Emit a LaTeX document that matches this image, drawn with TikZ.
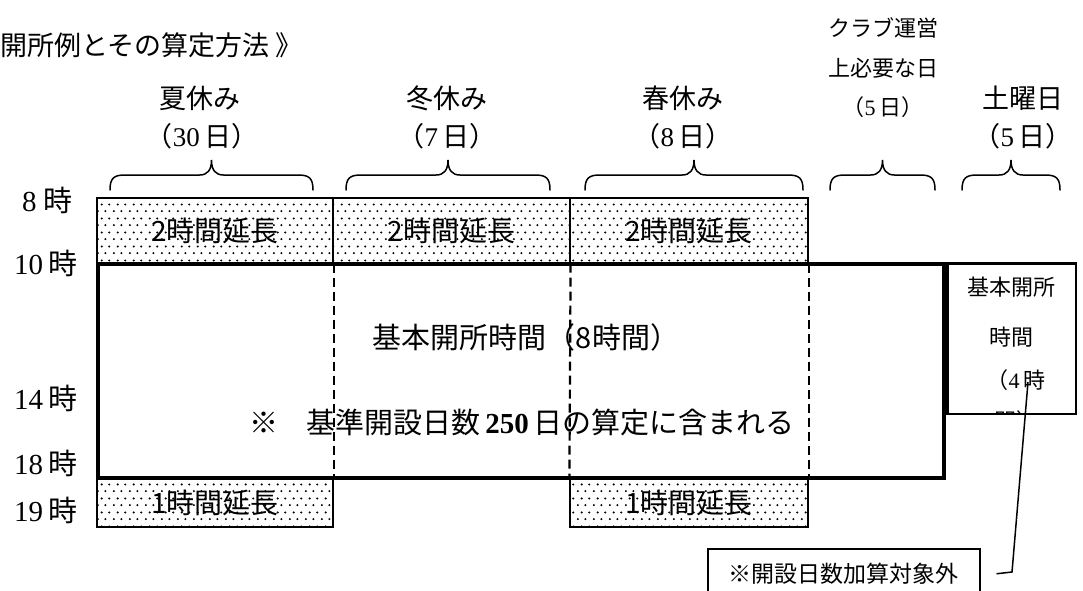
\documentclass[tikz,border=0pt]{standalone}
\usepackage{fontspec}
\setmainfont{Liberation Serif}
\newfontfamily\cjk{Noto Sans CJK JP}
\usetikzlibrary{patterns.meta}
\tikzdeclarepattern{name=sdots, type=uncolored, bottom left={(0pt,0pt)}, top right={(16pt,14pt)}, tile size={(16pt,14pt)},
 code={\fill (2pt,2pt) circle (1.2pt); \fill (10pt,2pt) circle (1.2pt); \fill (6pt,9pt) circle (1.2pt); \fill (14pt,9pt) circle (1.2pt);}}
\newcommand{\lp}{{\cjk （}}
\newcommand{\rp}{{\cjk ）}}
\begin{document}
\begin{tikzpicture}[x=1pt,y=-1pt,
  lbl/.style={inner sep=0pt, font=\fontsize{27}{30}\selectfont},
  tlbl/.style={inner sep=0pt, font=\fontsize{29}{32}\selectfont},
  small/.style={inner sep=0pt, font=\fontsize{22}{24}\selectfont},
  extbox/.style={draw, line width=1.2pt, pattern={sdots}, pattern color=black, inner sep=0pt,
     font=\cjk\fontsize{28}{30}\selectfont},
  divider/.style={line width=2.2pt, dash pattern=on 9pt off 5pt},
  bracepath/.style={line width=1.5pt, line cap=round}]
\useasboundingbox (0,0) rectangle (1083,590);
\fill[white] (0,0) rectangle (1083,590);

% title
\node[lbl, anchor=east] (title) at (303,45) {{\cjk 開所例とその算定方法 》}};

% headers
\node[lbl] (h1a) at (200,98) {\cjk 夏休み};
\node[lbl] (h1b) at (202,136) {\lp 30\,{\cjk 日}\rp};
\node[lbl] (h2a) at (447,98) {\cjk 冬休み};
\node[lbl] (h2b) at (447,136) {\lp 7\,{\cjk 日}\rp};
\node[lbl] (h3a) at (683,98) {\cjk 春休み};
\node[lbl] (h3b) at (683,136) {\lp 8\,{\cjk 日}\rp};
\node[small] (h4a) at (883,28) {\cjk クラブ運営};
\node[small] (h4b) at (883,68) {\cjk 上必要な日};
\node[small] (h4c) at (883,107) {\lp 5\,{\cjk 日}\rp};
\node[lbl] (h5a) at (1023,98) {\cjk 土曜日};
\node[lbl] (h5b) at (1023,136) {\lp 5\,{\cjk 日}\rp};

% braces
\foreach \a/\b in {110/313, 346/550, 585/803, 830/935, 962/1060}{
  \pgfmathsetmacro{\m}{(\a+\b)/2}
  \draw[bracepath] (\a,190) .. controls (\a,178) and (\a+4,175) .. (\a+15,175)
     -- (\m-12,175) .. controls (\m-4,175) and (\m,170) .. (\m,160)
     .. controls (\m,170) and (\m+4,175) .. (\m+12,175)
     -- (\b-15,175) .. controls (\b-4,175) and (\b,178) .. (\b,190);
}

% time labels
\node[tlbl, anchor=west] (t8) at (22,200) {8\hspace{7pt}{\cjk 時}};
\node[tlbl, anchor=west] (t10) at (14,263) {10\hspace{5pt}{\cjk 時}};
\node[tlbl, anchor=west] (t14) at (14,398) {14\hspace{5pt}{\cjk 時}};
\node[tlbl, anchor=west] (t18) at (14,463) {18\hspace{5pt}{\cjk 時}};
\node[tlbl, anchor=west] (t19) at (14,510) {19\hspace{5pt}{\cjk 時}};

% extension boxes
\node[extbox, minimum width=236pt, minimum height=65pt] (e1) at (215,230.5) {2時間延長};
\node[extbox, minimum width=237pt, minimum height=65pt] (e2) at (451.5,230.5) {2時間延長};
\node[extbox, minimum width=238pt, minimum height=65pt] (e3) at (689,230.5) {2時間延長};
\node[extbox, minimum width=236pt, minimum height=49pt] (b1) at (215,502.5) {1時間延長};
\node[extbox, minimum width=238pt, minimum height=49pt] (b3) at (689,502.5) {1時間延長};

% main box
\node[draw, line width=4pt, minimum width=846pt, minimum height=214pt, inner sep=0pt] (main) at (521,370.5) {};
\node[inner sep=0pt, font=\cjk\fontsize{29}{32}\selectfont] (mt1) at (526,337) {基本開所時間（8時間）};
\node[inner sep=0pt, font=\fontsize{29}{32}\selectfont] (mt2) at (522,422)
  {{\cjk ※}\hspace{28pt}{\cjk 基準開設日数}\,\textbf{250}\,{\cjk 日の算定に含まれる}};

% dashed dividers
\draw[divider] (e1.south east) -- (b1.north east);
\draw[divider] (e2.south east) -- (b3.north west);
\draw[divider] (e3.south east) -- (b3.north east);

% right box (Saturday)
\node[draw, line width=1.5pt, minimum width=128pt, minimum height=150pt, inner sep=0pt, anchor=north west] (sat) at (947,263) {};
\begin{scope}
\clip (947,263) rectangle (1075,413);
\node[small] (s1) at (1011,287) {\cjk 基本開所};
\node[small] (s2) at (1011,337) {\cjk 時間};
\node[small] (s3) at (1016,380) {\lp 4\,{\cjk 時}};
\node[small] (s4) at (1016,421) {\cjk 間）};
\end{scope}
\draw[line width=1.5pt] (sat.north west) rectangle (sat.south east);

% note box
\node[draw, line width=1.5pt, minimum width=272pt, minimum height=50pt, inner sep=0pt, anchor=north west,
      font=\cjk\fontsize{23}{26}\selectfont] (note) at (707,548) {※開設日数加算対象外};
\coordinate (lp) at (1028,382);
\draw[line width=1.5pt] (lp) -- (1012,572) -- ([xshift=16pt]note.east);
\end{tikzpicture}
\end{document}
